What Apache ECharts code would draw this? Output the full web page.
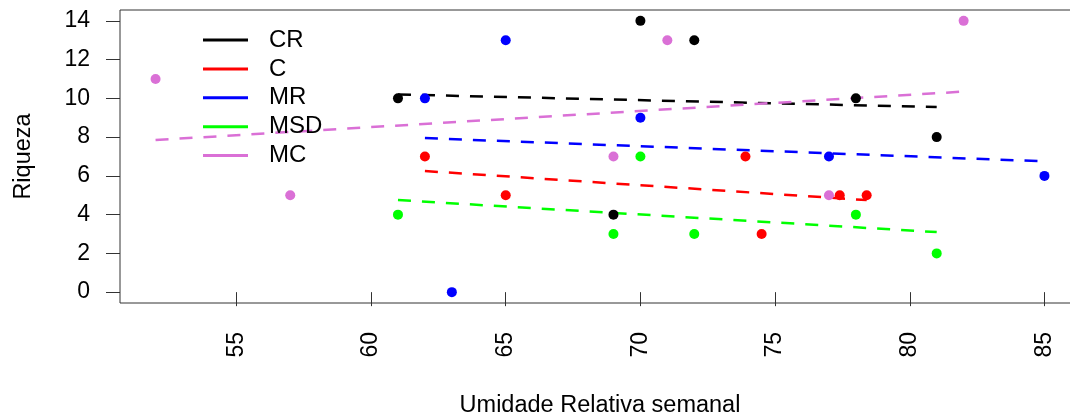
<!DOCTYPE html>
<html>
<head>
<meta charset="utf-8">
<script src="https://cdn.jsdelivr.net/npm/echarts@6/dist/echarts.min.js"></script>
<style>
html,body{margin:0;padding:0;background:#fff;overflow:hidden;}
#chart{width:1080px;height:418px;}
</style>
</head>
<body>
<div id="chart"></div>
<script>
// Group names and colours
const groups = ['CR', 'C', 'MR', 'MSD', 'MC'];
const colors = ['#000000', '#FF0000', '#0000FF', '#00FF00', '#DA70D6'];

// Observed points: humidity (x) and richness (y)
const x_CR  = [61, 69, 70, 72, 78, 81];
const y_CR  = [10, 4, 14, 13, 10, 8];
const x_C   = [62, 65, 73.9, 74.5, 77.4, 78.4];
const y_C   = [7, 5, 7, 3, 5, 5];
const x_MR  = [62, 63, 65, 70, 77, 85];
const y_MR  = [10, 0, 13, 9, 7, 6];
const x_MSD = [61, 69, 70, 72, 78, 81];
const y_MSD = [4, 3, 7, 3, 4, 2];
const x_MC  = [52, 57, 69, 71, 77, 82];
const y_MC  = [11, 5, 7, 13, 5, 14];

// Fitted trend lines (end points)
const fit_CR  = [[61, 10.2], [81, 9.55]];
const fit_C   = [[62, 6.25], [78.4, 4.75]];
const fit_MR  = [[62, 7.95], [85, 6.75]];
const fit_MSD = [[61, 4.75], [81, 3.1]];
const fit_MC  = [[52, 7.85], [82, 10.35]];

// Tick labels
const xTicks = [55, 60, 65, 70, 75, 80, 85];
const yTicks = [0, 2, 4, 6, 8, 10, 12, 14];

const pts = {CR:[x_CR,y_CR], C:[x_C,y_C], MR:[x_MR,y_MR], MSD:[x_MSD,y_MSD], MC:[x_MC,y_MC]};
const fits = {CR:fit_CR, C:fit_C, MR:fit_MR, MSD:fit_MSD, MC:fit_MC};

const FONT = "'Liberation Sans', Arial, sans-serif";
const series = [];
groups.forEach((g, i) => {
  const [xs, ys] = pts[g];
  series.push({
    name: g, type: 'scatter', symbol: 'circle', symbolSize: 10,
    itemStyle: {color: colors[i], opacity: 1},
    data: xs.map((x, k) => [x, ys[k]]),
    z: 3
  });
});
groups.forEach((g, i) => {
  series.push({
    name: g, type: 'line', symbol: 'none', silent: true,
    lineStyle: {color: colors[i], width: 2.5, opacity: 1, type: [13, 11]},
    data: fits[g],
    z: 2
  });
});

const chart = echarts.init(document.getElementById('chart'), null, {renderer: 'canvas'});
chart.setOption({
  animation: false,
  backgroundColor: '#fff',
  textStyle: {fontFamily: FONT},
  grid: {left: 120, top: 10, right: 0, height: 293, outerBoundsMode: 'none', containLabel: false,
         show: true, borderColor: '#333', borderWidth: 1, backgroundColor: 'transparent'},
  legend: {
    orient: 'vertical', left: 198, top: 23, selectedMode: false,
    itemWidth: 45, itemHeight: 3, itemGap: 4.9,
    textStyle: {fontFamily: FONT, fontSize: 24, color: '#000', height: 20, lineHeight: 20, padding: [0, 0, 0, 16]},
    data: groups.map((g, i) => ({name: g, icon: 'rect', itemStyle: {color: colors[i], opacity: 1}}))
  },
  xAxis: {
    type: 'value', min: 50.68, max: 86.32,
    name: 'Umidade Relativa semanal', nameLocation: 'middle', nameGap: 91,
    nameTextStyle: {fontFamily: FONT, fontSize: 23.5, color: '#000'},
    axisLine: {show: false},
    axisTick: {show: true, length: 14, customValues: xTicks, lineStyle: {color: '#333'}},
    axisLabel: {customValues: xTicks, rotate: 90, margin: 29, fontFamily: FONT, fontSize: 23, color: '#000'},
    splitLine: {show: false}
  },
  yAxis: {
    type: 'value', min: -0.56, max: 14.56,
    name: 'Riqueza', nameLocation: 'middle', nameGap: 84, nameRotate: 90,
    nameTextStyle: {fontFamily: FONT, fontSize: 23.5, color: '#000'},
    axisLine: {show: false},
    axisTick: {show: true, length: 14, customValues: yTicks, lineStyle: {color: '#333'}},
    axisLabel: {customValues: yTicks, margin: 30, fontFamily: FONT, fontSize: 23, color: '#000'},
    splitLine: {show: false}
  },
  series: series
});
</script>
</body>
</html>
